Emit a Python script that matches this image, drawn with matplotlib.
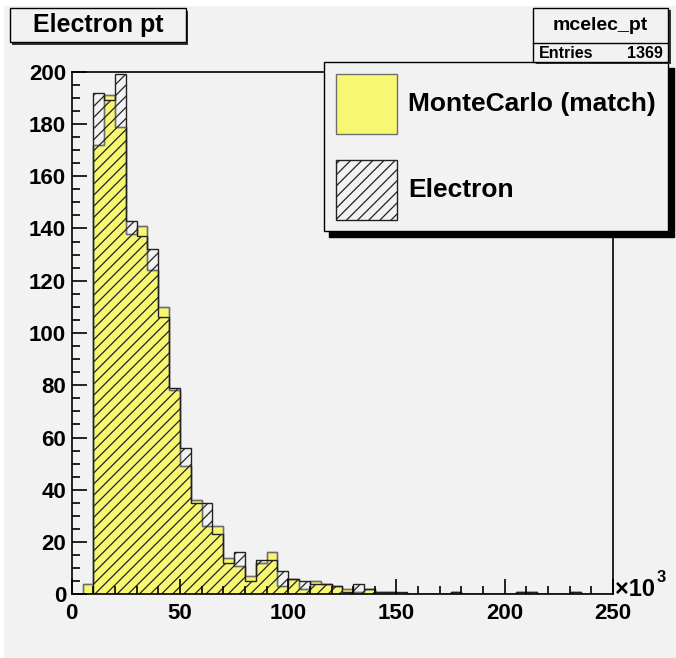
import numpy as np
import matplotlib
matplotlib.use("Agg")
import matplotlib.pyplot as plt
from matplotlib.patches import Rectangle
from matplotlib.ticker import MultipleLocator

plt.rcParams["font.family"] = ["Liberation Sans", "DejaVu Sans"]
plt.rcParams["font.weight"] = "bold"
plt.rcParams["hatch.linewidth"] = 0.9

# bin edges in units of 10^3 (5 per bin, 0..250)
edges = np.arange(0, 255, 5)

mc_counts = [0, 4, 172, 191, 179, 138, 141, 124, 110, 78,
             49, 36, 26, 26, 14, 11, 7, 12, 16, 3,
             6, 2, 5, 4, 3, 2, 1, 2, 1, 1,
             0, 0, 0, 0, 0, 1, 0, 0, 0, 0,
             0, 1, 1, 0, 0, 0, 1, 0, 0, 0]
electron_counts = [0, 0, 192, 189, 199, 143, 137, 132, 106, 79,
                   56, 35, 35, 23, 12, 16, 5, 13, 13, 9,
                   6, 5, 4, 4, 3, 1, 4, 2, 1, 1,
                   1, 0, 0, 0, 0, 1, 0, 0, 0, 0,
                   0, 1, 1, 0, 0, 0, 1, 0, 0, 0]

title = "Electron pt"
stats_name = "mcelec_pt"
entries = 1369
labels = ["MonteCarlo (match)", "Electron"]

bg = "#f2f2f2"
W, H = 676, 658

fig = plt.figure(figsize=(W / 100, H / 100), dpi=100, facecolor="white")
# canvas
fig.patches.append(Rectangle((4 / W, 0), 1, 1 - 6 / H, transform=fig.transFigure,
                             facecolor=bg, edgecolor="none", zorder=-10))

ax = fig.add_axes([71.7 / W, 1 - 594.3 / H, (613 - 71.7) / W, (594.3 - 71.7) / H])
ax.set_facecolor(bg)

mc = ax.stairs(mc_counts, edges, fill=True, facecolor="#f7f772", edgecolor="#6e6e6e",
               linewidth=1.0, label=labels[0])
ax.stairs(mc_counts, edges, fill=False, color="#6e6e6e", linewidth=1.0)
el = ax.stairs(electron_counts, edges, fill=True, facecolor="none", edgecolor="#222222",
               hatch="///", linewidth=1.0, label=labels[1])

ax.set_xlim(0, 250)
ax.set_ylim(0, 200)
ax.xaxis.set_major_locator(MultipleLocator(50))
ax.xaxis.set_minor_locator(MultipleLocator(10))
ax.yaxis.set_major_locator(MultipleLocator(20))
ax.yaxis.set_minor_locator(MultipleLocator(5))
ax.tick_params(which="both", direction="in", top=False, right=False, labelsize=16, width=1.2)
ax.tick_params(which="major", length=11)
ax.tick_params(which="minor", length=5.5)
ax.tick_params(axis="x", pad=6)
ax.tick_params(axis="y", pad=4)
for lab in ax.get_xticklabels() + ax.get_yticklabels():
    lab.set_fontweight("bold")
for s in ax.spines.values():
    s.set_linewidth(1.2)

fig.text(615 / W, 1 - 590 / H, "\u00d710", fontsize=17, fontweight="bold", va="center", ha="left")
fig.text(657 / W, 1 - 578 / H, "3", fontsize=12, fontweight="bold", va="center", ha="left")

# legend
leg = ax.legend(handles=[mc, el], loc="upper right", bbox_to_anchor=(668 / W, 1 - 62 / H),
                bbox_transform=fig.transFigure, borderaxespad=0, fancybox=False,
                framealpha=1, facecolor=bg, edgecolor="black", fontsize=19,
                handlelength=2.3, handleheight=3.1, handletextpad=0.45, labelspacing=1.0,
                borderpad=0.45, shadow={"ox": 4, "oy": -4, "facecolor": "black",
                                        "edgecolor": "black", "alpha": 1})
leg.get_frame().set_linewidth(1.0)
for t in leg.get_texts():
    t.set_fontweight("bold")
leg.set_zorder(20)

# title box
fig.patches.append(Rectangle((12 / W, 1 - 45 / H), 176 / W, 34 / H, transform=fig.transFigure,
                             facecolor="#333333", edgecolor="none", zorder=5))
fig.patches.append(Rectangle((10 / W, 1 - 42 / H), 176 / W, 34 / H, transform=fig.transFigure,
                             facecolor=bg, edgecolor="black", linewidth=1.0, zorder=6))
fig.text(98 / W, 1 - 25 / H, title, fontsize=18, fontweight="bold", ha="center", va="center", zorder=7)

# stats box
fig.patches.append(Rectangle((536 / W, 1 - 64 / H), 135 / W, 54 / H, transform=fig.transFigure,
                             facecolor="#333333", edgecolor="none", zorder=5))
fig.patches.append(Rectangle((533 / W, 1 - 62 / H), 135 / W, 54 / H, transform=fig.transFigure,
                             facecolor=bg, edgecolor="black", linewidth=1.0, zorder=6))
fig.add_artist(plt.Line2D([533 / W, 668 / W], [1 - 43 / H, 1 - 43 / H], transform=fig.transFigure,
                          color="black", linewidth=1.0, zorder=7))
fig.text(600 / W, 1 - 26 / H, stats_name, fontsize=14, fontweight="bold", ha="center", va="center", zorder=7)
fig.text(539 / W, 1 - 53 / H, "Entries", fontsize=11.5, fontweight="bold", ha="left", va="center", zorder=7)
fig.text(663 / W, 1 - 53 / H, str(entries), fontsize=11.5, fontweight="bold", ha="right", va="center", zorder=7)

fig.savefig("out.png", dpi=100, facecolor=fig.get_facecolor())
